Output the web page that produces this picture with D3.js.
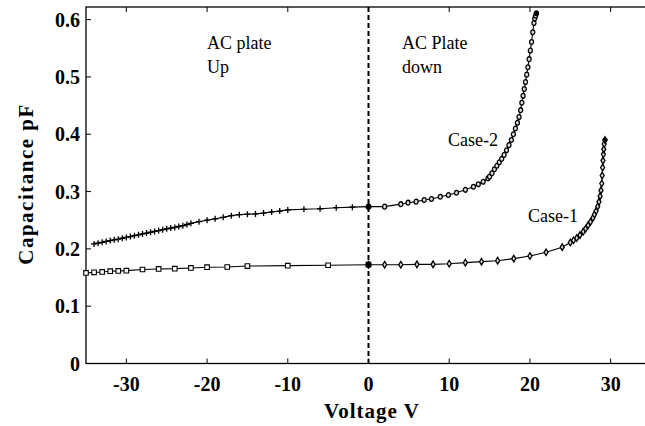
<!DOCTYPE html>
<html>
<head>
<meta charset="utf-8">
<script src="https://cdn.jsdelivr.net/npm/d3@7"></script>
<style>
  body { margin: 0; background: #fff; }
  svg { display: block; }
  .tick-label { font-family: "Liberation Serif", serif; font-weight: bold; font-size: 20px; fill: #000; }
  .axis-title { font-family: "Liberation Serif", serif; font-weight: bold; font-size: 21px; fill: #000; }
  .note { font-family: "Liberation Serif", serif; font-size: 18px; fill: #000; }
</style>
</head>
<body>
<div id="chart"></div>
<script>
const svgWidth = 645;
const svgHeight = 426;

// frame edges
const frameLeft = 86, frameRight = 651, frameTop = 7, frameBottom = 363.5;

// Case-1, AC plate up (negative voltage, squares)
const case1UpV = [-35, -34, -33, -32, -31, -30, -28, -26, -24, -22, -20, -17.5, -15, -10, -5, 0];
const case1UpC = [0.158, 0.159, 0.1597, 0.161, 0.1616, 0.162, 0.164, 0.165, 0.1655, 0.1667, 0.168, 0.1684, 0.170, 0.1707, 0.1714, 0.1724];

// Case-1, AC plate down (positive voltage, diamonds)
const case1DownV = [0, 2, 4, 6, 8, 10, 12, 14, 16, 18, 20, 22, 24, 25, 25.4, 25.8, 26.2, 26.6, 26.9, 27.2, 27.5, 27.8, 28.0,
  28.2, 28.4, 28.55, 28.7, 28.8, 28.9, 28.95, 29.0, 29.05, 29.1, 29.15, 29.2, 29.3];
const case1DownC = [0.1724, 0.1724, 0.1724, 0.173, 0.173, 0.174, 0.176, 0.1777, 0.1794, 0.183, 0.1876, 0.194, 0.203, 0.211,
  0.215, 0.219, 0.224, 0.230, 0.235, 0.241, 0.247, 0.254, 0.260, 0.266, 0.274, 0.282, 0.292, 0.302, 0.314, 0.328, 0.342,
  0.354, 0.365, 0.374, 0.383, 0.390];

// Case-2, AC plate up (negative voltage, plus signs)
const case2UpV = [-34, -33.5, -33, -32.5, -32, -31.5, -31, -30.5, -30, -29.5, -29, -28.5, -28, -27.5, -27, -26.5, -26,
  -25.5, -25, -24.5, -24, -23.5, -23, -22.5, -22, -21, -20, -19, -18, -17, -16, -15, -14, -13, -12, -11, -10, -8, -6, -4, -2, 0];
const case2UpC = [0.2086, 0.210, 0.2115, 0.213, 0.2145, 0.2158, 0.217, 0.2185, 0.220, 0.2215, 0.223, 0.2245, 0.226,
  0.2275, 0.229, 0.2305, 0.232, 0.2335, 0.235, 0.2362, 0.2375, 0.239, 0.2405, 0.2425, 0.2445, 0.2475, 0.250, 0.2525,
  0.255, 0.258, 0.2597, 0.2605, 0.261, 0.2625, 0.2644, 0.266, 0.268, 0.269, 0.270, 0.2718, 0.2728, 0.2737];

// Case-2, AC plate down (positive voltage, circles)
const case2DownV = [0, 2, 4, 4.9, 5.9, 6.9, 7.8, 8.9, 9.9, 10.9, 12.0, 13.0, 13.6, 14.2, 14.8, 15.0, 15.3, 15.6, 15.9,
  16.2, 16.5, 16.8, 17.1, 17.4, 17.7, 17.95, 18.2, 18.45, 18.65, 18.85, 19.0, 19.15, 19.3, 19.45, 19.6, 19.75, 19.9,
  20.05, 20.2, 20.35, 20.5, 20.6, 20.7, 20.8];
const case2DownC = [0.2737, 0.2737, 0.278, 0.2806, 0.2824, 0.2853, 0.287, 0.291, 0.294, 0.298, 0.303, 0.3085, 0.3127,
  0.317, 0.323, 0.326, 0.332, 0.339, 0.345, 0.351, 0.357, 0.364, 0.372, 0.381, 0.390, 0.400, 0.410, 0.420, 0.430, 0.442,
  0.455, 0.467, 0.479, 0.491, 0.504, 0.517, 0.531, 0.546, 0.561, 0.578, 0.594, 0.602, 0.607, 0.611];

const xTicks = [-30, -20, -10, 0, 10, 20, 30];
const yTicks = [0, 0.1, 0.2, 0.3, 0.4, 0.5, 0.6];

const svg = d3.select("#chart").append("svg")
  .attr("width", svgWidth)
  .attr("height", svgHeight);

const x = d3.scaleLinear().domain([-35, 35]).range([frameLeft, frameRight]);
const y = d3.scaleLinear().domain([0, 0.622]).range([frameBottom, frameTop]);

// ticks on all four sides, pointing inward
const tickLen = 5;
const ticks = svg.append("g").attr("stroke", "#000").attr("stroke-width", 1);
xTicks.forEach(v => {
  ticks.append("line").attr("x1", x(v)).attr("x2", x(v)).attr("y1", frameBottom).attr("y2", frameBottom - tickLen);
  ticks.append("line").attr("x1", x(v)).attr("x2", x(v)).attr("y1", frameTop).attr("y2", frameTop + tickLen);
});
yTicks.slice(1).forEach(v => {
  ticks.append("line").attr("x1", frameLeft).attr("x2", frameLeft + tickLen).attr("y1", y(v)).attr("y2", y(v));
  ticks.append("line").attr("x1", frameRight).attr("x2", frameRight - tickLen).attr("y1", y(v)).attr("y2", y(v));
});

// frame
svg.append("rect")
  .attr("x", frameLeft).attr("y", frameTop)
  .attr("width", frameRight - frameLeft).attr("height", frameBottom - frameTop)
  .attr("fill", "none").attr("stroke", "#000").attr("stroke-width", 1.3);

// tick labels
svg.selectAll(".xlab").data(xTicks).enter().append("text")
  .attr("class", "tick-label")
  .attr("x", d => x(d))
  .attr("y", 391)
  .attr("text-anchor", "middle")
  .text(d => d);

svg.selectAll(".ylab").data(yTicks).enter().append("text")
  .attr("class", "tick-label")
  .attr("x", 80)
  .attr("y", d => y(d) + 7)
  .attr("text-anchor", "end")
  .text(d => d);

// axis titles
svg.append("text")
  .attr("class", "axis-title")
  .attr("x", 372).attr("y", 418)
  .attr("text-anchor", "middle")
  .style("letter-spacing", "1px")
  .text("Voltage V");

svg.append("text")
  .attr("class", "axis-title")
  .attr("transform", "translate(33, 184) rotate(-90)")
  .attr("text-anchor", "middle")
  .style("letter-spacing", "1.5px")
  .text("Capacitance pF");

// dashed divider at 0 V
svg.append("line")
  .attr("x1", x(0)).attr("x2", x(0))
  .attr("y1", frameTop).attr("y2", frameBottom)
  .attr("stroke", "#000").attr("stroke-width", 2)
  .attr("stroke-dasharray", "5,3");

const line = d3.line().x(d => x(d[0])).y(d => y(d[1]));
const zip = (a, b) => a.map((v, i) => [v, b[i]]);

const series = [
  { pts: zip(case1UpV, case1UpC), shape: "M-2.3,-2.3H2.3V2.3H-2.3Z", fill: "#fff", sw: 1.1 },
  { pts: zip(case1DownV, case1DownC), shape: "M0,-3.3L2,0L0,3.3L-2,0Z", fill: "#ddd", sw: 1.3 },
  { pts: zip(case2UpV, case2UpC), shape: "M-3,0H3M0,-3V3", fill: "none", sw: 1.3 },
  { pts: zip(case2DownV, case2DownC), shape: "M0,-2.4A2,2.4 0 1,1 0,2.4A2,2.4 0 1,1 0,-2.4Z", fill: "#ddd", sw: 1.3 }
];

series.forEach(s => {
  svg.append("path")
    .datum(s.pts)
    .attr("fill", "none")
    .attr("stroke", "#000")
    .attr("stroke-width", 1.1)
    .attr("d", line);

  svg.append("g").selectAll("path")
    .data(s.pts)
    .enter().append("path")
    .attr("transform", d => `translate(${x(d[0])},${y(d[1])})`)
    .attr("d", s.shape)
    .attr("fill", s.fill)
    .attr("stroke", "#000")
    .attr("stroke-width", s.sw);
});

// joined points on the divider
[case1UpC[case1UpC.length - 1], case2UpC[case2UpC.length - 1]].forEach(c => {
  svg.append("circle").attr("cx", x(0)).attr("cy", y(c)).attr("r", 3).attr("fill", "#000");
});

// top end caps
svg.append("circle").attr("cx", x(20.8)).attr("cy", y(0.611)).attr("r", 2.5).attr("fill", "#000");
svg.append("circle").attr("cx", x(29.3)).attr("cy", y(0.390)).attr("r", 2.5).attr("fill", "#000");

// annotations
const notes = [
  ["AC plate", 207, 49], ["Up", 207, 73],
  ["AC Plate", 402, 49], ["down", 402, 73],
  ["Case-2", 448, 146], ["Case-1", 528, 222]
];
svg.selectAll(".note").data(notes).enter().append("text")
  .attr("class", "note")
  .attr("x", d => d[1]).attr("y", d => d[2])
  .text(d => d[0]);
</script>
</body>
</html>
